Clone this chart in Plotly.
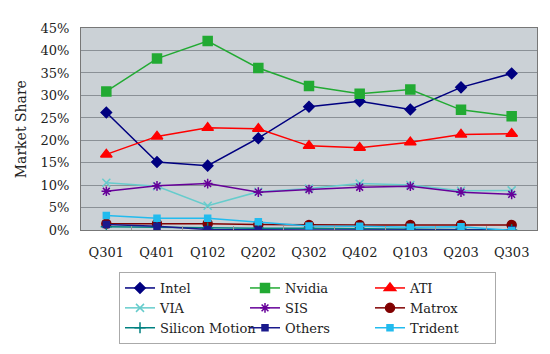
import plotly.graph_objects as go

quarters = ["Q301", "Q401", "Q102", "Q202", "Q302", "Q402", "Q103", "Q203", "Q303"]
intel = [26.2, 15.2, 14.4, 20.5, 27.5, 28.7, 26.9, 31.8, 34.9]
nvidia = [30.9, 38.2, 42.1, 36.1, 32.1, 30.4, 31.3, 26.8, 25.4]
ati = [16.9, 20.9, 22.8, 22.6, 18.8, 18.4, 19.6, 21.3, 21.5]
via = [10.6, 9.8, 5.5, 8.6, 9.3, 10.4, 10.1, 8.8, 8.9]
sis = [8.7, 9.9, 10.4, 8.5, 9.1, 9.6, 9.8, 8.5, 8.0]
matrox = [1.5, 1.5, 1.5, 1.3, 1.2, 1.2, 1.2, 1.2, 1.2]
silicon_motion = [0.8, 0.7, 0.5, 0.5, 0.5, 0.4, 0.3, 0.3, 0.1]
others = [1.3, 0.9, 0.2, 0.1, 0.1, 0.1, 0.1, 0.1, 0.1]
trident = [3.3, 2.7, 2.7, 1.9, 1.0, 0.9, 0.7, 0.8, 0.0]

series = [
    ("Intel", intel, "#000080", "diamond", 8),
    ("Nvidia", nvidia, "#22AA33", "square", 9),
    ("ATI", ati, "#FF0000", "triangle-up", 10),
    ("VIA", via, "#66CCCC", "x-thin-open", 8),
    ("SIS", sis, "#660099", "asterisk-open", 8),
    ("Matrox", matrox, "#800000", "circle", 9),
    ("Silicon Motion", silicon_motion, "#008080", "cross-thin-open", 8),
    ("Others", others, "#1A1A8C", "square", 6),
    ("Trident", trident, "#22BBEE", "square", 6),
]

fig = go.Figure()
for name, vals, col, sym, sz in series:
    fig.add_trace(go.Scatter(
        x=quarters, y=vals, name=name, mode="lines+markers",
        line=dict(color=col, width=1.5),
        marker=dict(symbol=sym, size=sz, color=col, line=dict(color=col, width=1.5)),
    ))

font_family = "DejaVu Serif"
fig.update_layout(
    width=550, height=354,
    margin=dict(l=81, r=13, t=28, b=122),
    paper_bgcolor="white",
    plot_bgcolor="#CBD1D6",
    font=dict(family=font_family, size=13, color="#222222"),
    showlegend=True,
    legend=dict(
        orientation="h", xref="container", yref="container",
        x=119/550, y=1-272/354, xanchor="left", yanchor="top",
        entrywidth=80, entrywidthmode="pixels", itemwidth=30,
        bordercolor="#AAAAAA", borderwidth=1, bgcolor="white",
        font=dict(family=font_family, size=13, color="#222222"),
        tracegroupgap=0,
    ),
    xaxis=dict(
        type="category", range=[-0.5, 8.5], showgrid=False,
        showline=True, linecolor="#777777", linewidth=1, mirror=True,
        ticks="inside", tickson="boundaries", ticklen=4, tickcolor="#999999",
        tickfont=dict(size=13), ticklabelstandoff=10,
    ),
    yaxis=dict(
        range=[0, 45], dtick=5, ticksuffix="%",
        showgrid=True, gridcolor="#8A9096", gridwidth=1,
        showline=True, linecolor="#777777", linewidth=1, mirror=True,
        zeroline=False, tickfont=dict(size=13), ticklabelstandoff=8,
        title=dict(text="Market Share", font=dict(size=14), standoff=10),
    ),
)

fig.write_html("out.html")
